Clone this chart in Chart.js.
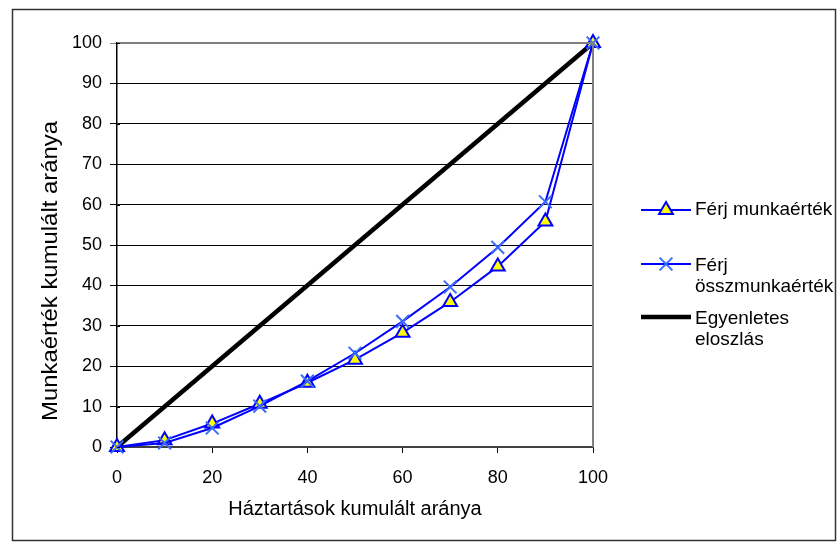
<!DOCTYPE html>
<html><head><meta charset="utf-8">
<script src="https://cdn.jsdelivr.net/npm/chart.js@4"></script>
<style>html,body{margin:0;padding:0;background:#fff}#wrap{width:837px;height:542px;position:relative}canvas{display:block}</style>
</head><body><div id="wrap"><canvas id="c" width="837" height="542"></canvas></div>
<script>
const xValues = [0, 10, 20, 30, 40, 50, 60, 70, 80, 90, 100];
const ferjMunkaertek = [0, 1.7, 5.8, 10.7, 15.9, 21.6, 28.3, 35.9, 44.7, 55.8, 100];
const ferjOsszmunkaertek = [0, 1.0, 4.7, 10.1, 16.3, 23.2, 31.1, 39.6, 49.4, 60.7, 100];
const egyenletesX = [0, 100];
const egyenletesY = [0, 100];
const seriesNames = ['Férj munkaérték', 'Férj összmunkaérték', 'Egyenletes eloszlás'];
const legendLines = [['Férj munkaérték'], ['Férj', 'összmunkaérték'], ['Egyenletes', 'eloszlás']];
const xTitle = 'Háztartások kumulált aránya';
const yTitle = 'Munkaérték kumulált aránya';

const FONT = '"Liberation Sans", Arial, sans-serif';
const BLUE = '#0000FF';
const XBLUE = '#3A6BFF';

const toPts = (xs, ys) => xs.map((x, i) => ({x: x, y: ys[i]}));

const decor = {
  id: 'decor',
  afterDraw(chart) {
    const ctx = chart.ctx;
    const a = chart.chartArea;
    ctx.save();
    // plot border (top & right, gray)
    ctx.strokeStyle = '#808080';
    ctx.lineWidth = 2;
    ctx.beginPath();
    ctx.moveTo(a.left, a.top); ctx.lineTo(a.right, a.top); ctx.lineTo(a.right, a.bottom);
    ctx.stroke();
    // small inner tick stubs on the y axis
    ctx.strokeStyle = '#000';
    ctx.lineWidth = 1;
    const ys = chart.scales.y;
    ys.ticks.forEach(t => {
      const py = Math.round(ys.getPixelForValue(t.value)) + 0.5;
      ctx.beginPath(); ctx.moveTo(a.left, py); ctx.lineTo(a.left + 3, py); ctx.stroke();
    });
    // outer border
    ctx.strokeStyle = '#333';
    ctx.lineWidth = 1.5;
    ctx.strokeRect(12.5, 9.5, 823, 531);
    // y title
    ctx.save();
    ctx.translate(51, 271);
    ctx.rotate(-Math.PI / 2);
    ctx.font = '22px ' + FONT;
    const w = ctx.measureText(yTitle).width;
    ctx.scale(300 / w, 1);
    ctx.fillStyle = '#000';
    ctx.textAlign = 'center';
    ctx.textBaseline = 'middle';
    ctx.fillText(yTitle, 0, 0);
    ctx.restore();
    // legend
    const items = [
      {y: 210, color: BLUE, width: 2, point: 'triangle', pColor: BLUE, fill: '#FFFF00', r: 8, textY: [210]},
      {y: 264, color: BLUE, width: 2, point: 'crossRot', pColor: XBLUE, fill: XBLUE, r: 9, textY: [266, 287]},
      {y: 317, color: '#000', width: 4.5, point: null, textY: [319, 340]}
    ];
    items.forEach((it, i) => {
      ctx.strokeStyle = it.color;
      ctx.lineWidth = it.width;
      ctx.beginPath();
      ctx.moveTo(641, it.y); ctx.lineTo(691, it.y);
      ctx.stroke();
      if (it.point) {
        ctx.strokeStyle = it.pColor;
        ctx.fillStyle = it.fill;
        ctx.lineWidth = 2;
        Chart.helpers.drawPoint(ctx, {pointStyle: it.point, radius: it.r, rotation: 0, borderWidth: 2}, 666, it.y);
      }
      ctx.fillStyle = '#000';
      ctx.font = '19px ' + FONT;
      ctx.textAlign = 'left';
      ctx.textBaseline = 'middle';
      legendLines[i].forEach((t, j) => ctx.fillText(t, 695, it.textY[j]));
    });
    ctx.restore();
  }
};

new Chart(document.getElementById('c'), {
  type: 'line',
  data: {
    datasets: [
      {
        label: seriesNames[1],
        data: toPts(xValues, ferjOsszmunkaertek),
        borderColor: BLUE, borderWidth: 2,
        pointStyle: 'crossRot', pointRadius: 9, pointBorderColor: XBLUE, pointBorderWidth: 2,
        pointBackgroundColor: XBLUE, tension: 0, clip: false, order: 0
      },
      {
        label: seriesNames[0],
        data: toPts(xValues, ferjMunkaertek),
        borderColor: BLUE, borderWidth: 2,
        pointStyle: 'triangle', pointRadius: 8, pointBorderColor: BLUE, pointBorderWidth: 2,
        pointBackgroundColor: '#FFFF00', tension: 0, clip: false, order: 1
      },
      {
        label: seriesNames[2],
        data: toPts(egyenletesX, egyenletesY),
        borderColor: '#000', borderWidth: 4.5, pointRadius: 0, tension: 0, clip: false, order: 2
      }
    ]
  },
  options: {
    responsive: false,
    animation: false,
    devicePixelRatio: 1,
    layout: {padding: {left: 0, top: 43, right: 244, bottom: 0}},
    plugins: {legend: {display: false}, tooltip: {enabled: false}},
    scales: {
      x: {
        type: 'linear', min: 0, max: 100,
        afterFit(s) { s.height = 95; },
        ticks: {stepSize: 20, color: '#000', font: {family: FONT, size: 18}, padding: 14, maxRotation: 0},
        grid: {drawOnChartArea: false, drawTicks: true, tickLength: 6, color: '#000'},
        border: {display: true, color: '#404040', width: 2},
        title: {display: true, text: xTitle, color: '#000', font: {family: FONT, size: 20}, padding: {top: 4, bottom: 21}}
      },
      y: {
        type: 'linear', min: 0, max: 100,
        afterFit(s) { s.width = 117; },
        ticks: {stepSize: 10, color: '#000', font: {family: FONT, size: 18}, padding: 8},
        grid: {color: ctx => (ctx.tick && ctx.tick.value === 100) ? '#808080' : '#000', lineWidth: 1, tickLength: 7},
        border: {display: true, color: '#000', width: 1.5}
      }
    }
  },
  plugins: [decor]
});
</script>
</body></html>
